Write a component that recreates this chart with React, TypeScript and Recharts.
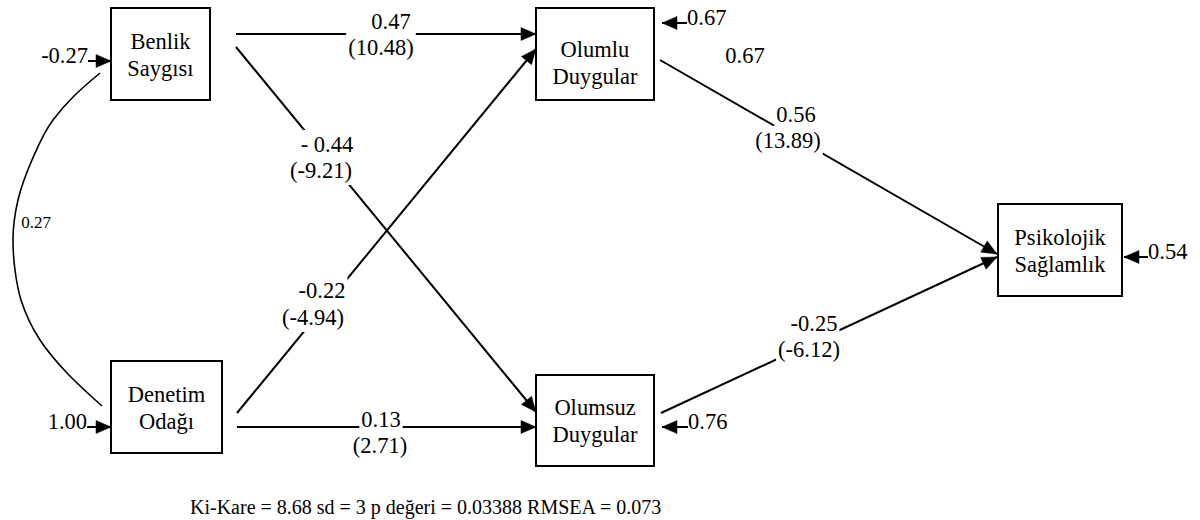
import React from 'react';
import { ScatterChart, Scatter, XAxis, YAxis } from 'recharts';

const FONT = "'Liberation Serif', 'Times New Roman', Times, serif";
const CHART_W = 1200;
const CHART_H = 520;
const LABEL_SIZE = 22.5;
const SMALL_SIZE = 17;
const FOOTER_SIZE = 20;

// Observed variables (box extents in diagram units) and first-line baseline of the label
const nodes = [
  { name: 'Benlik Saygısı', lines: ['Benlik', 'Saygısı'], left: 111, right: 210, top: 8, bottom: 100, textY: 49 },
  { name: 'Denetim Odağı', lines: ['Denetim', 'Odağı'], left: 111, right: 222, top: 361, bottom: 453, textY: 402 },
  { name: 'Olumlu Duygular', lines: ['Olumlu', 'Duygular'], left: 536, right: 654, top: 8, bottom: 100, textY: 57 },
  { name: 'Olumsuz Duygular', lines: ['Olumsuz', 'Duygular'], left: 536, right: 654, top: 375, bottom: 466, textY: 415 },
  { name: 'Psikolojik Sağlamlık', lines: ['Psikolojik', 'Sağlamlık'], left: 998, right: 1122, top: 204, bottom: 296, textY: 245 },
];

// Structural paths (start -> arrow tip)
const paths = [
  { from: 'Benlik Saygısı', to: 'Olumlu Duygular', x1: 236, y1: 34, x2: 536, y2: 34 },
  { from: 'Benlik Saygısı', to: 'Olumsuz Duygular', x1: 236, y1: 47, x2: 536, y2: 412 },
  { from: 'Denetim Odağı', to: 'Olumlu Duygular', x1: 237, y1: 413, x2: 536, y2: 49 },
  { from: 'Denetim Odağı', to: 'Olumsuz Duygular', x1: 237, y1: 427, x2: 536, y2: 427 },
  { from: 'Olumlu Duygular', to: 'Psikolojik Sağlamlık', x1: 660, y1: 60, x2: 997, y2: 254 },
  { from: 'Olumsuz Duygular', to: 'Psikolojik Sağlamlık', x1: 661, y1: 413, x2: 997, y2: 257 },
];

// Path coefficients and t-values (center x, baseline y)
const coefficients = [
  { text: '0.47', x: 391, y: 29 },
  { text: '(10.48)', x: 381, y: 55 },
  { text: '- 0.44', x: 327, y: 152 },
  { text: '(-9.21)', x: 321, y: 178 },
  { text: '-0.22', x: 322, y: 298 },
  { text: '(-4.94)', x: 313, y: 325 },
  { text: '0.13', x: 381, y: 427 },
  { text: '(2.71)', x: 380, y: 453 },
  { text: '0.56', x: 796, y: 122 },
  { text: '(13.89)', x: 788, y: 148 },
  { text: '-0.25', x: 814, y: 331 },
  { text: '(-6.12)', x: 809, y: 357 },
];

// Error terms (arrow start -> tip)
const errorTerms = [
  { label: '-0.27', x1: 88, y1: 61, x2: 111, y2: 61 },
  { label: '1.00', x1: 87, y1: 427, x2: 111, y2: 427 },
  { label: '0.67', x1: 687, y1: 23, x2: 662, y2: 23 },
  { label: '0.76', x1: 688, y1: 427, x2: 662, y2: 427 },
  { label: '0.54', x1: 1148, y1: 257, x2: 1124, y2: 257 },
];

// Free-standing values
const freeLabels = [{ text: '0.67', x: 745, y: 63 }];
const covarianceLabel = [{ text: '0.27', x: 36, y: 228 }];

// Covariance arc between Benlik Saygısı and Denetim Odağı
const covariancePoints = [
  { x: 100, y: 73 },
  { x: 75, y: 95 },
  { x: 53, y: 120 },
  { x: 32, y: 160 },
  { x: 18, y: 200 },
  { x: 13, y: 240 },
  { x: 15, y: 270 },
  { x: 21, y: 300 },
  { x: 40, y: 340 },
  { x: 67, y: 373 },
  { x: 92, y: 397 },
  { x: 102, y: 406 },
];

const footer = [{ text: 'Ki-Kare = 8.68 sd = 3 p değeri = 0.03388 RMSEA = 0.073', x: 190, y: 514 }];

const CHAR_W: Record<string, number> = {
  '0': 0.5, '1': 0.5, '2': 0.5, '3': 0.5, '4': 0.5, '5': 0.5, '6': 0.5, '7': 0.5, '8': 0.5, '9': 0.5,
  '.': 0.25, '-': 0.333, '(': 0.333, ')': 0.333, ' ': 0.25,
};
const textWidth = (s: string, size: number) =>
  s.split('').reduce((a, c) => a + (CHAR_W[c] ?? 0.5), 0) * size;

const Arrowhead = ({ cx, cy, dx, dy }: { cx: number; cy: number; dx: number; dy: number }) => {
  const len = Math.hypot(dx, dy) || 1;
  const ux = dx / len;
  const uy = dy / len;
  const L = 15;
  const hw = 6.5;
  const bx = cx - ux * L;
  const by = cy - uy * L;
  const px = -uy;
  const py = ux;
  return (
    <polygon
      points={`${cx},${cy} ${bx + px * hw},${by + py * hw} ${bx - px * hw},${by - py * hw}`}
      fill="#000"
      stroke="#000"
      strokeWidth={0.5}
    />
  );
};

const Empty = () => <g />;

const textStyle = (size: number): React.CSSProperties => ({ fontFamily: FONT, fontSize: size });

export default function App() {
  const lineStyle = { stroke: '#000', strokeWidth: 2 };
  return (
    <div
      style={{
        position: 'absolute',
        left: 0,
        top: 0,
        width: CHART_W,
        height: CHART_H,
        background: '#fff',
        fontFamily: FONT,
      }}
    >
      <ScatterChart width={CHART_W} height={CHART_H} margin={{ top: 0, right: 0, bottom: 0, left: 0 }}>
        <XAxis type="number" dataKey="x" domain={[0, CHART_W]} allowDataOverflow hide />
        <YAxis type="number" dataKey="y" domain={[0, CHART_H]} allowDataOverflow reversed hide />

        {/* covariance arc */}
        <Scatter
          data={covariancePoints}
          line={{ stroke: '#000', strokeWidth: 1.6 }}
          lineJointType="monotoneY"
          fill="#000"
          shape={Empty}
          isAnimationActive={false}
        />

        {/* structural paths */}
        {paths.map((p, i) => (
          <Scatter
            key={'path' + i}
            data={[
              { x: p.x1, y: p.y1, end: false },
              { x: p.x2, y: p.y2, end: true, dx: p.x2 - p.x1, dy: p.y2 - p.y1 },
            ]}
            line={lineStyle}
            fill="#000"
            isAnimationActive={false}
            shape={(s: any) =>
              s.payload && s.payload.end ? (
                <Arrowhead cx={s.cx} cy={s.cy} dx={s.payload.dx} dy={s.payload.dy} />
              ) : (
                <g />
              )
            }
          />
        ))}

        {/* coefficient labels with white background */}
        <Scatter
          data={coefficients}
          fill="#000"
          isAnimationActive={false}
          shape={(s: any) => {
            const t = s.payload.text as string;
            const w = textWidth(t, LABEL_SIZE) + 4;
            return (
              <g>
                <rect x={s.cx - w / 2} y={s.cy - 22} width={w} height={29} fill="#fff" />
                <text x={s.cx} y={s.cy} textAnchor="middle" style={textStyle(LABEL_SIZE)} fill="#000">
                  {t}
                </text>
              </g>
            );
          }}
        />

        {/* boxes */}
        {nodes.map((n, i) => (
          <Scatter
            key={'box' + i}
            data={[
              { x: n.left, y: n.top },
              { x: n.right, y: n.top },
              { x: n.right, y: n.bottom },
              { x: n.left, y: n.bottom },
              { x: n.left, y: n.top },
            ]}
            line={{ stroke: '#000', strokeWidth: 2, strokeLinecap: 'square', strokeLinejoin: 'miter' }}
            fill="#000"
            shape={Empty}
            isAnimationActive={false}
          />
        ))}

        {/* box labels */}
        <Scatter
          data={nodes.map((n) => ({ x: (n.left + n.right) / 2, y: n.textY, lines: n.lines }))}
          fill="#000"
          isAnimationActive={false}
          shape={(s: any) => (
            <g>
              {(s.payload.lines as string[]).map((ln, k) => (
                <text
                  key={k}
                  x={s.cx}
                  y={s.cy + k * 26.5}
                  textAnchor="middle"
                  style={textStyle(LABEL_SIZE)}
                  fill="#000"
                >
                  {ln}
                </text>
              ))}
            </g>
          )}
        />

        {/* error terms */}
        {errorTerms.map((e, i) => (
          <Scatter
            key={'err' + i}
            data={[
              { x: e.x1, y: e.y1, end: false, label: e.label, right: e.x2 > e.x1 },
              { x: e.x2, y: e.y2, end: true, dx: e.x2 - e.x1, dy: e.y2 - e.y1 },
            ]}
            line={lineStyle}
            fill="#000"
            isAnimationActive={false}
            shape={(s: any) =>
              s.payload.end ? (
                <Arrowhead cx={s.cx} cy={s.cy} dx={s.payload.dx} dy={s.payload.dy} />
              ) : (
                <text
                  x={s.cx}
                  y={s.cy + 1.5}
                  textAnchor={s.payload.right ? 'end' : 'start'}
                  style={textStyle(LABEL_SIZE)}
                  fill="#000"
                >
                  {s.payload.label}
                </text>
              )
            }
          />
        ))}

        {/* free labels */}
        <Scatter
          data={freeLabels}
          fill="#000"
          isAnimationActive={false}
          shape={(s: any) => (
            <text x={s.cx} y={s.cy} textAnchor="middle" style={textStyle(LABEL_SIZE)} fill="#000">
              {s.payload.text}
            </text>
          )}
        />
        <Scatter
          data={covarianceLabel}
          fill="#000"
          isAnimationActive={false}
          shape={(s: any) => (
            <text x={s.cx} y={s.cy} textAnchor="middle" style={textStyle(SMALL_SIZE)} fill="#000">
              {s.payload.text}
            </text>
          )}
        />

        {/* fit statistics */}
        <Scatter
          data={footer}
          fill="#000"
          isAnimationActive={false}
          shape={(s: any) => (
            <text x={s.cx} y={s.cy} textAnchor="start" style={textStyle(FOOTER_SIZE)} fill="#000">
              {s.payload.text}
            </text>
          )}
        />
      </ScatterChart>
    </div>
  );
}
